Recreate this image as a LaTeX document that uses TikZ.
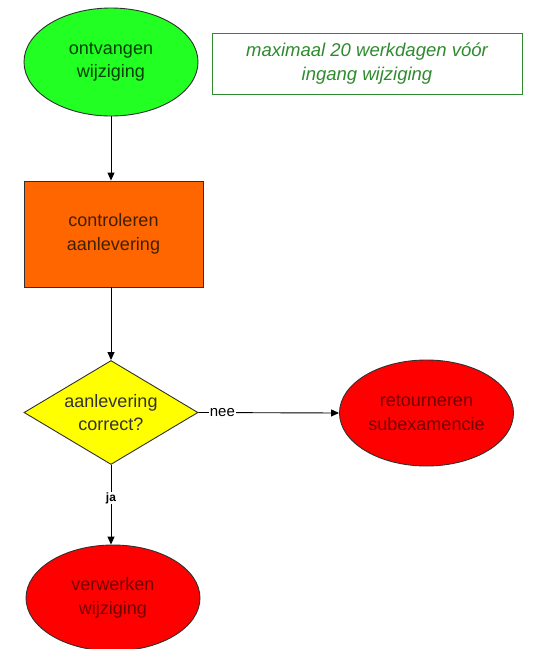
\documentclass[tikz,border=0pt]{standalone}
\usepackage{fontspec}
\setmainfont{Liberation Sans}
\usetikzlibrary{shapes.geometric,arrows.meta}
\definecolor{fgreen}{HTML}{22FF22}
\definecolor{forange}{HTML}{FF6600}
\definecolor{fyellow}{HTML}{FFFF00}
\definecolor{fred}{HTML}{FF0000}
\definecolor{notegreen}{HTML}{2E8B2E}
\definecolor{edgegray}{HTML}{303030}
\tikzset{
  shapetext/.style={font=\fontsize{18}{23.5}\selectfont, align=center, draw=edgegray, line width=0.9pt, inner sep=0pt},
  startnode/.style={shapetext, ellipse, fill=fgreen, text=green!25!black, minimum width=174pt, minimum height=108pt},
  procnode/.style={shapetext, rectangle, fill=forange, text=orange!25!black, minimum width=179pt, minimum height=106pt},
  decnode/.style={shapetext, diamond, aspect=1.67, fill=fyellow, text=black!80, minimum width=174pt, minimum height=104pt},
  endnode/.style={shapetext, ellipse, fill=fred, text=red!45!black, minimum width=174pt, minimum height=106pt},
  notenode/.style={draw=notegreen, line width=0.9pt, text=notegreen, font=\itshape\fontsize{18.5}{23.5}\selectfont, align=center, minimum width=310pt, minimum height=61pt, inner sep=0pt},
  flow/.style={draw=black, line width=0.9pt, -{Triangle[length=8pt,width=7pt]}},
  edgelabel/.style={font=\fontsize{15}{17}\selectfont, fill=white, inner sep=1pt}
}
\begin{document}
\begin{tikzpicture}[x=1pt,y=-1pt]
\useasboundingbox (0,0) rectangle (533,649);
\clip (0,0) rectangle (533,649);
\fill[white] (0,0) rectangle (533,649);
\node[startnode] (start) at (111,62) {ontvangen\\wijziging};
\node[notenode] (note) at (367,63.5) {maximaal 20 werkdagen vóór\\ingang wijziging};
\node[procnode] (check) at (113.5,234) {controleren\\aanlevering};
\node[decnode] (dec) at (111,412.5) {aanlevering\\correct?};
\node[endnode] (ret) at (426.5,413) {retourneren\\subexamencie};
\node[endnode] (proc) at (113,598) {verwerken\\wijziging};
\draw[flow] (start.south) -- (start.south |- check.north);
\draw[flow] (check.south -| start.south) -- (dec.north);
\draw[flow] (dec.east) -- node[edgelabel, pos=0.17] {nee} (ret.west);
\draw[flow] (dec.south) -- node[edgelabel, pos=0.42, font=\bfseries\fontsize{12}{14}\selectfont, inner sep=0.5pt] {ja} (dec.south |- proc.north);
\end{tikzpicture}
\end{document}
